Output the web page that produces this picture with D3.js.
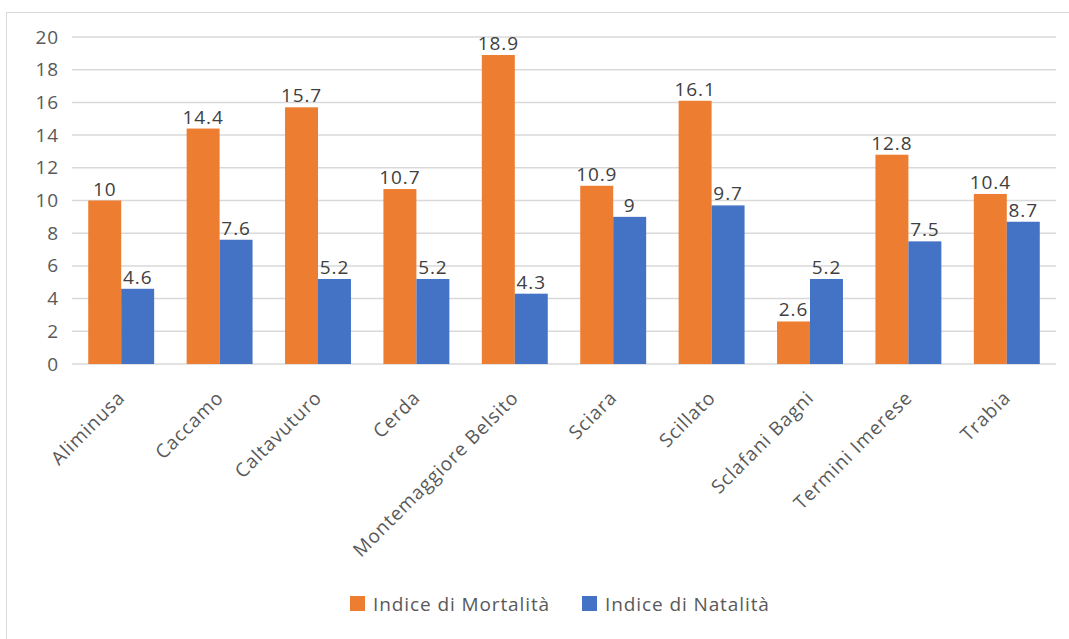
<!DOCTYPE html>
<html>
<head>
<meta charset="utf-8">
<script src="https://cdn.jsdelivr.net/npm/d3@7"></script>
<style>
  body { margin: 0; background: #fff; }
  svg { display: block; font-family: "Open Sans", "Noto Sans", sans-serif; }
  text { letter-spacing: 0.9px; }
</style>
</head>
<body>
<svg id="chart" width="1069" height="639"></svg>
<script>
const comuni = ["Aliminusa", "Caccamo", "Caltavuturo", "Cerda", "Montemaggiore Belsito",
  "Sciara", "Scillato", "Sclafani Bagni", "Termini Imerese", "Trabia"];
const mortalita = [10, 14.4, 15.7, 10.7, 18.9, 10.9, 16.1, 2.6, 12.8, 10.4];
const natalita = [4.6, 7.6, 5.2, 5.2, 4.3, 9, 9.7, 5.2, 7.5, 8.7];
const serie = ["Indice di Mortalità", "Indice di Natalità"];
const yTicks = [0, 2, 4, 6, 8, 10, 12, 14, 16, 18, 20];

const colori = ["#ED7D31", "#4472C4"];

const svg = d3.select("#chart");

// cornice del grafico (lati destro e inferiore fuori dall'immagine)
svg.append("rect")
  .attr("x", 6.5).attr("y", 12.5)
  .attr("width", 1080).attr("height", 640)
  .attr("fill", "#fff")
  .attr("stroke", "#d9d9d9");

const margin = { top: 37, left: 72, right: 13, bottom: 275 };
const innerWidth = 1069 - margin.left - margin.right,
  innerHeight = 639 - margin.top - margin.bottom;

const g = svg.append("g").attr("transform", `translate(${margin.left},${margin.top})`);

const xScale = d3.scaleBand()
  .domain(comuni)
  .range([0, innerWidth])
  .paddingInner(0.33)
  .paddingOuter(0.165);

const xSub = d3.scaleBand()
  .domain(serie)
  .range([0, xScale.bandwidth()]);

const yScale = d3.scaleLinear().domain([0, 20]).range([innerHeight, 0]);

// griglia
g.append("g")
  .selectAll("line")
  .data(yTicks)
  .join("line")
  .attr("x1", 0).attr("x2", innerWidth)
  .attr("y1", (d) => yScale(d)).attr("y2", (d) => yScale(d))
  .attr("stroke", "#d9d9d9")
  .attr("stroke-width", 1.5);

// asse y
const gy = g.append("g")
  .call(d3.axisLeft(yScale).tickValues(yTicks).tickSize(0).tickPadding(13));
gy.select(".domain").remove();
gy.selectAll("text")
  .attr("fill", "#595959")
  .style("font-size", "19px")
  .style("font-family", "'Open Sans', sans-serif");

const data = comuni.map((c, i) => ({
  comune: c,
  valori: [
    { serie: serie[0], value: mortalita[i] },
    { serie: serie[1], value: natalita[i] },
  ],
}));

const groups = g.selectAll(".gruppo")
  .data(data)
  .join("g")
  .attr("class", "gruppo")
  .attr("transform", (d) => `translate(${xScale(d.comune)},0)`);

groups.selectAll("rect")
  .data((d) => d.valori)
  .join("rect")
  .attr("x", (d) => xSub(d.serie))
  .attr("width", xSub.bandwidth())
  .attr("y", (d) => yScale(d.value))
  .attr("height", (d) => innerHeight - yScale(d.value))
  .attr("fill", (d, i) => colori[i]);

groups.selectAll("text")
  .data((d) => d.valori)
  .join("text")
  .attr("x", (d) => xSub(d.serie) + xSub.bandwidth() / 2)
  .attr("y", (d) => yScale(d.value) - 5)
  .attr("text-anchor", "middle")
  .attr("fill", "#404040")
  .style("font-size", "19px")
  .text((d) => d.value);

// asse x
const gx = g.append("g")
  .attr("transform", `translate(0,${innerHeight})`)
  .call(d3.axisBottom(xScale).tickSize(0).tickPadding(0));
gx.select(".domain").remove();
gx.selectAll("text")
  .attr("fill", "#595959")
  .style("font-size", "19px")
  .style("font-family", "'Open Sans', sans-serif")
  .attr("text-anchor", "end")
  .attr("y", 0)
  .attr("dy", 0)
  .attr("transform", "translate(5,35) rotate(-45)");

// legenda
const legend = svg.append("g").attr("transform", "translate(350,596)");
const items = legend.selectAll("g")
  .data(serie)
  .join("g")
  .attr("transform", (d, i) => `translate(${i * 232},0)`);
items.append("rect")
  .attr("width", 15).attr("height", 15)
  .attr("fill", (d, i) => colori[i]);
items.append("text")
  .attr("x", 23).attr("y", 8)
  .attr("dy", "0.35em")
  .attr("fill", "#595959")
  .style("font-size", "19px")
  .text((d) => d);
</script>
</body>
</html>
